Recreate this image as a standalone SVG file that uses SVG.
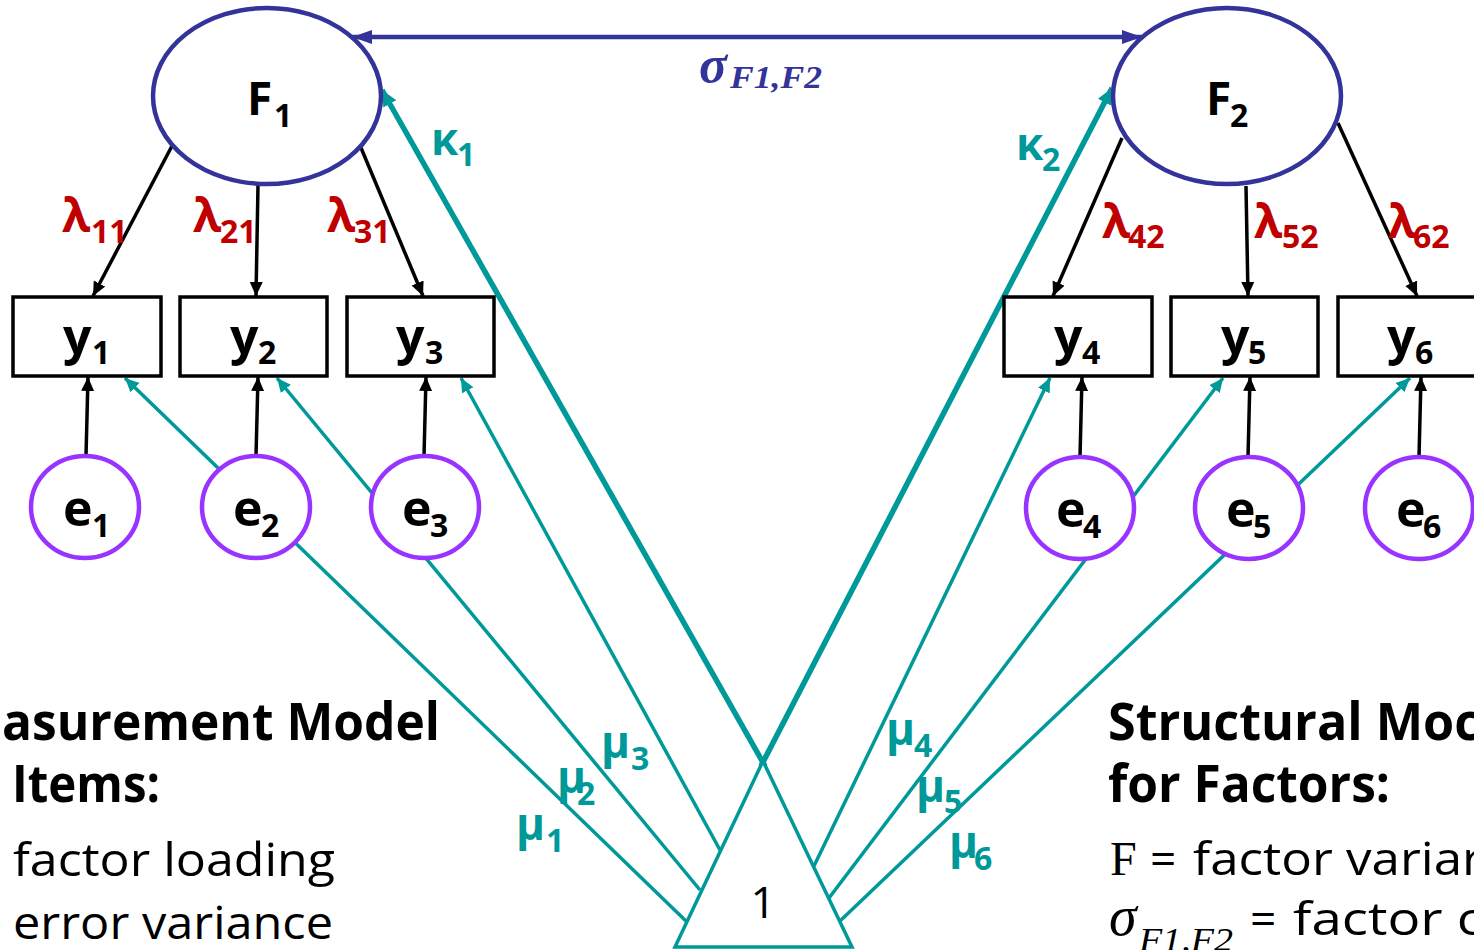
<svg xmlns="http://www.w3.org/2000/svg" width="1474" height="950" viewBox="0 0 1474 950">
<style>
.lbl{font-family:"Open Sans","Noto Sans",sans-serif;font-weight:bold;fill:#000}
.big{font-size:50px}
.fac{font-size:46px}
.sub{font-size:32px}
.lam{font-family:"Open Sans","Noto Sans",sans-serif;font-weight:bold;fill:#C00000;font-size:46px}
.tl{font-family:"Open Sans","Noto Sans",sans-serif;font-weight:bold;fill:#009999;font-size:44px}
.head{font-family:"Open Sans","Noto Sans",sans-serif;font-weight:bold;font-size:52px;fill:#000}
.body{font-family:"Open Sans","Noto Sans",sans-serif;font-size:46px;fill:#000}
.math{font-family:"Liberation Serif","DejaVu Serif",serif;fill:#000}
.load{stroke:#000;stroke-width:3.5;fill:none;marker-end:url(#ahBlack)}
.err{stroke:#000;stroke-width:3.5;fill:none;marker-end:url(#ahBlack)}
.mean{stroke:#009999;stroke-width:3.5;fill:none;marker-end:url(#ahTeal)}
.kap{stroke:#009999;stroke-width:5.5;fill:none;marker-end:url(#ahKap)}
.cov{stroke:#333399;stroke-width:4.5;fill:none;marker-start:url(#ahBlue);marker-end:url(#ahBlue)}
.fnode{fill:#fff;stroke:#333399;stroke-width:4.5}
.ynode{fill:#fff;stroke:#000;stroke-width:3.5}
.enode{fill:#fff;stroke:#9933FF;stroke-width:4.5}
</style>
<defs>
<marker id="ahBlack" markerUnits="userSpaceOnUse" markerWidth="16" markerHeight="14" refX="14" refY="7" orient="auto"><path d="M0,0.5 L14,7 L0,13.5 z" fill="#000"/></marker>
<marker id="ahTeal" markerUnits="userSpaceOnUse" markerWidth="16" markerHeight="14" refX="14" refY="7" orient="auto"><path d="M0,0.5 L14,7 L0,13.5 z" fill="#009999"/></marker>
<marker id="ahKap" markerUnits="userSpaceOnUse" markerWidth="18" markerHeight="16" refX="16" refY="8" orient="auto"><path d="M0,0.5 L16,8 L0,15.5 z" fill="#009999"/></marker>
<marker id="ahBlue" markerUnits="userSpaceOnUse" markerWidth="22" markerHeight="16" refX="20" refY="8" orient="auto-start-reverse"><path d="M0,1 L20,8 L0,15 z" fill="#333399"/></marker>
</defs>
<rect width="1474" height="950" fill="#fff"/>

<g id="connectors">
  <line class="cov" x1="352" y1="37" x2="1142" y2="37"/>
  <line class="load" x1="173" y1="144" x2="93" y2="296"/>
  <line class="load" x1="258" y1="185" x2="256" y2="296"/>
  <line class="load" x1="359" y1="143" x2="423" y2="296"/>
  <line class="load" x1="1122" y1="138" x2="1053" y2="296"/>
  <line class="load" x1="1246" y1="186" x2="1248" y2="296"/>
  <line class="load" x1="1338" y1="123" x2="1417" y2="296"/>
  <line class="err" x1="86" y1="456" x2="88" y2="377"/>
  <line class="err" x1="256" y1="456" x2="258" y2="377"/>
  <line class="err" x1="424" y1="456" x2="426" y2="377"/>
  <line class="err" x1="1080" y1="457" x2="1082" y2="377"/>
  <line class="err" x1="1248" y1="457" x2="1250" y2="377"/>
  <line class="err" x1="1419" y1="457" x2="1421" y2="377"/>
  <line class="mean" x1="687" y1="922" x2="125" y2="378"/>
  <line class="mean" x1="700" y1="890" x2="277" y2="378"/>
  <line class="mean" x1="720" y1="850" x2="461" y2="378"/>
  <line class="mean" x1="814" y1="866" x2="1050" y2="378"/>
  <line class="mean" x1="829" y1="898" x2="1223" y2="378"/>
  <line class="mean" x1="840" y1="921" x2="1410" y2="378"/>
  <line class="kap" x1="765" y1="766" x2="382" y2="90"/>
  <line class="kap" x1="761" y1="766" x2="1112" y2="88"/>
</g>

<g id="F1"><ellipse class="fnode" cx="267" cy="96" rx="114" ry="88"/>
  <text class="lbl fac" x="247" y="115">F<tspan class="sub" x="274" y="127">1</tspan></text></g>
<g id="F2"><ellipse class="fnode" cx="1227" cy="96" rx="114" ry="88"/>
  <text class="lbl fac" x="1206" y="115">F<tspan class="sub" x="1230" y="127">2</tspan></text></g>

<g id="y1"><rect class="ynode" x="13" y="297" width="148" height="79"/>
  <text class="lbl big" x="63" y="354">y<tspan class="sub" x="92" y="364">1</tspan></text></g>
<g id="y2"><rect class="ynode" x="180" y="297" width="147" height="79"/>
  <text class="lbl big" x="230" y="354">y<tspan class="sub" x="258" y="364">2</tspan></text></g>
<g id="y3"><rect class="ynode" x="347" y="297" width="147" height="79"/>
  <text class="lbl big" x="396" y="354">y<tspan class="sub" x="425" y="364">3</tspan></text></g>
<g id="y4"><rect class="ynode" x="1004" y="297" width="148" height="79"/>
  <text class="lbl big" x="1054" y="354">y<tspan class="sub" x="1082" y="364">4</tspan></text></g>
<g id="y5"><rect class="ynode" x="1171" y="297" width="147" height="79"/>
  <text class="lbl big" x="1221" y="354">y<tspan class="sub" x="1248" y="364">5</tspan></text></g>
<g id="y6"><rect class="ynode" x="1338" y="297" width="148" height="79"/>
  <text class="lbl big" x="1387" y="354">y<tspan class="sub" x="1415" y="364">6</tspan></text></g>

<g id="e1"><ellipse class="enode" cx="85" cy="507" rx="54" ry="51"/>
  <text class="lbl big" x="63" y="526">e<tspan class="sub" x="92" y="537">1</tspan></text></g>
<g id="e2"><ellipse class="enode" cx="256" cy="507" rx="54" ry="51"/>
  <text class="lbl big" x="233" y="526">e<tspan class="sub" x="261" y="537">2</tspan></text></g>
<g id="e3"><ellipse class="enode" cx="425" cy="507" rx="54" ry="51"/>
  <text class="lbl big" x="402" y="526">e<tspan class="sub" x="430" y="537">3</tspan></text></g>
<g id="e4"><ellipse class="enode" cx="1080" cy="508" rx="54" ry="51"/>
  <text class="lbl big" x="1056" y="527">e<tspan class="sub" x="1083" y="538">4</tspan></text></g>
<g id="e5"><ellipse class="enode" cx="1249" cy="508" rx="54" ry="51"/>
  <text class="lbl big" x="1226" y="527">e<tspan class="sub" x="1253" y="538">5</tspan></text></g>
<g id="e6"><ellipse class="enode" cx="1419" cy="508" rx="54" ry="51"/>
  <text class="lbl big" x="1396" y="527">e<tspan class="sub" x="1423" y="538">6</tspan></text></g>

<g id="one"><polygon points="763,761 675,947 852,947" fill="#fff" stroke="#009999" stroke-width="3.5" stroke-linejoin="miter"/>
  <text x="763" y="918" text-anchor="middle" font-family="Open Sans, Noto Sans, sans-serif" font-size="44" fill="#000">1</text></g>

<g id="labels">
  <text class="lam" x="62" y="232">λ<tspan class="sub" x="91" y="243">11</tspan></text>
  <text class="lam" x="193" y="232">λ<tspan class="sub" x="220" y="243">21</tspan></text>
  <text class="lam" x="327" y="232">λ<tspan class="sub" x="354" y="243">31</tspan></text>
  <text class="lam" x="1102" y="238">λ<tspan class="sub" x="1128" y="248">42</tspan></text>
  <text class="lam" x="1254" y="238">λ<tspan class="sub" x="1282" y="248">52</tspan></text>
  <text class="lam" x="1388" y="238">λ<tspan class="sub" x="1413" y="248">62</tspan></text>
  <text class="tl" x="431" y="155">κ<tspan class="sub" x="457" y="166">1</tspan></text>
  <text class="tl" x="1016" y="160">κ<tspan class="sub" x="1042" y="171">2</tspan></text>
  <text class="tl" x="516" y="840">μ<tspan class="sub" x="546" y="852">1</tspan></text>
  <text class="tl" x="557" y="793">μ<tspan class="sub" x="577" y="805">2</tspan></text>
  <text class="tl" x="601" y="758">μ<tspan class="sub" x="631" y="770">3</tspan></text>
  <text class="tl" x="886" y="745">μ<tspan class="sub" x="914" y="757">4</tspan></text>
  <text class="tl" x="916" y="802">μ<tspan class="sub" x="944" y="813">5</tspan></text>
  <text class="tl" x="949" y="858">μ<tspan class="sub" x="974" y="870">6</tspan></text>
  <text x="699" y="82" font-family="Liberation Serif, DejaVu Serif, serif" font-style="italic" font-weight="bold" font-size="52" fill="#333399">σ<tspan x="730" y="88" font-size="32" textLength="92" lengthAdjust="spacingAndGlyphs">F1,F2</tspan></text>
</g>

<g id="left-text">
  <text class="head" x="2" y="740" textLength="438" lengthAdjust="spacingAndGlyphs">asurement Model</text>
  <text class="head" x="12" y="802" textLength="148" lengthAdjust="spacingAndGlyphs">Items:</text>
  <text class="body" x="13" y="876" textLength="322" lengthAdjust="spacingAndGlyphs">factor loading</text>
  <text class="body" x="13" y="939" textLength="320" lengthAdjust="spacingAndGlyphs">error variance</text>
</g>

<g id="right-text">
  <text class="head" x="1108" y="740" textLength="372" lengthAdjust="spacingAndGlyphs">Structural Moc</text>
  <text class="head" x="1108" y="802" textLength="282" lengthAdjust="spacingAndGlyphs">for Factors:</text>
  <text class="math" x="1110" y="875" font-size="48">F</text>
  <text class="body" x="1150" y="875">=</text>
  <text class="body" x="1193" y="875" textLength="290" lengthAdjust="spacingAndGlyphs">factor variar</text>
  <text class="math" x="1109" y="935" font-size="56" font-style="italic">σ<tspan x="1139" y="951" font-size="34" textLength="94" lengthAdjust="spacingAndGlyphs">F1,F2</tspan></text>
  <text class="body" x="1250" y="935">=</text>
  <text class="body" x="1293" y="935" textLength="190" lengthAdjust="spacingAndGlyphs">factor c</text>
</g>
</svg>
